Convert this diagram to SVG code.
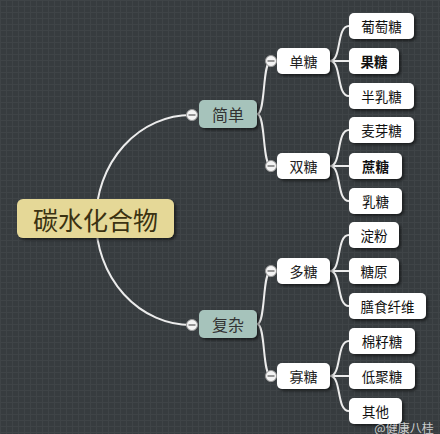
<svg xmlns="http://www.w3.org/2000/svg" width="440" height="434" viewBox="0 0 440 434">
<defs>
<pattern id="grid" width="6" height="6" patternUnits="userSpaceOnUse">
<rect width="6" height="6" fill="#373c3f"/>
<path d="M0 0.5H6M0.5 0V6" stroke="#3f4447" stroke-width="1"/>
</pattern>
<filter id="sh" x="-20%" y="-30%" width="150%" height="170%">
<feDropShadow dx="2" dy="2" stdDeviation="1.5" flood-color="#000" flood-opacity="0.55"/>
</filter>
</defs>
<style>
.t{font-family:"Noto Sans CJK SC","Noto Sans CJK JP",sans-serif;text-anchor:middle;dominant-baseline:central}
.leaf rect{fill:#ffffff;filter:url(#sh)}
.leaf text{font-size:13.5px;fill:#111}
.sub rect{fill:#ffffff;filter:url(#sh)}
.sub text{font-size:14px;fill:#222}
.mid rect{fill:#a6c3bb;filter:url(#sh)}
.mid text{font-size:16px;fill:#333}
.conn path{fill:none;stroke:#ececec;stroke-width:2;stroke-linecap:round}
.tog circle{fill:#f4f4f4;stroke:#9a9a9a;stroke-width:1}
.tog path{stroke:#777;stroke-width:1.5}
</style>
<rect width="440" height="434" fill="url(#grid)"/>
<g id="connectors" class="conn">
<path d="M191,115 A95,105 0 0 0 191,325" stroke-width="3"/>
<path d="M257,114 C266,114 262,61 271,61"/>
<path d="M257,114 C266,114 262,166 271,166"/>
<path d="M257,324 C266,324 262,271 271,271"/>
<path d="M257,324 C266,324 262,376 271,376"/>
<path d="M330,61 C342,61 336,26 349,26"/>
<path d="M330,61 H349"/>
<path d="M330,61 C342,61 336,96 349,96"/>
<path d="M330,166 C342,166 336,130 349,130"/>
<path d="M330,166 H349"/>
<path d="M330,166 C342,166 336,201 349,201"/>
<path d="M330,271 C342,271 336,235 349,235"/>
<path d="M330,271 H349"/>
<path d="M330,271 C342,271 336,306 349,306"/>
<path d="M330,376 C342,376 336,341 349,341"/>
<path d="M330,376 H349"/>
<path d="M330,376 C342,376 336,411 349,411"/>
</g>
<g id="root">
<rect x="17" y="199" width="157" height="39" rx="6" fill="#e5d897" filter="url(#sh)"/>
<text class="t" x="95.5" y="219" font-size="25" fill="#3b3212">碳水化合物</text>
</g>
<g id="n-simple" class="mid">
<rect x="199" y="100" width="58" height="28" rx="5"/>
<text class="t" x="228" y="114">简单</text>
</g>
<g id="n-complex" class="mid">
<rect x="199" y="310" width="58" height="28" rx="5"/>
<text class="t" x="228" y="324">复杂</text>
</g>
<g id="tog-simple" class="tog"><circle cx="192" cy="115" r="5.5"/><path d="M188.5,115H195.5"/></g>
<g id="tog-complex" class="tog"><circle cx="192" cy="325" r="5.5"/><path d="M188.5,325H195.5"/></g>
<g id="n-mono" class="sub"><rect x="277" y="48" width="53" height="26" rx="5"/><text class="t" x="303.5" y="61">单糖</text></g>
<g id="n-di" class="sub"><rect x="277" y="153" width="53" height="26" rx="5"/><text class="t" x="303.5" y="166">双糖</text></g>
<g id="n-poly" class="sub"><rect x="277" y="258" width="53" height="26" rx="5"/><text class="t" x="303.5" y="271">多糖</text></g>
<g id="n-oligo" class="sub"><rect x="277" y="363" width="53" height="26" rx="5"/><text class="t" x="303.5" y="376">寡糖</text></g>
<g id="tog-mono" class="tog"><circle cx="271" cy="61" r="5.5"/><path d="M267.5,61H274.5"/></g>
<g id="tog-di" class="tog"><circle cx="271" cy="166" r="5.5"/><path d="M267.5,166H274.5"/></g>
<g id="tog-poly" class="tog"><circle cx="271" cy="271" r="5.5"/><path d="M267.5,271H274.5"/></g>
<g id="tog-oligo" class="tog"><circle cx="271" cy="376" r="5.5"/><path d="M267.5,376H274.5"/></g>
<g id="n-glucose" class="leaf"><rect x="349" y="13" width="65" height="26" rx="5"/><text class="t" x="381.5" y="26">葡萄糖</text></g>
<g id="n-fructose" class="leaf"><rect x="349" y="48" width="50" height="26" rx="5"/><text class="t" x="374" y="61" font-weight="bold">果糖</text></g>
<g id="n-galactose" class="leaf"><rect x="349" y="83" width="65" height="26" rx="5"/><text class="t" x="381.5" y="96">半乳糖</text></g>
<g id="n-maltose" class="leaf"><rect x="349" y="117" width="65" height="26" rx="5"/><text class="t" x="381.5" y="130">麦芽糖</text></g>
<g id="n-sucrose" class="leaf"><rect x="349" y="153" width="53" height="26" rx="5"/><text class="t" x="375.5" y="166" font-weight="bold">蔗糖</text></g>
<g id="n-lactose" class="leaf"><rect x="349" y="188" width="53" height="26" rx="5"/><text class="t" x="375.5" y="201">乳糖</text></g>
<g id="n-starch" class="leaf"><rect x="349" y="222" width="50" height="26" rx="5"/><text class="t" x="374" y="235">淀粉</text></g>
<g id="n-glycogen" class="leaf"><rect x="349" y="258" width="50" height="26" rx="5"/><text class="t" x="374" y="271">糖原</text></g>
<g id="n-fiber" class="leaf"><rect x="349" y="293" width="77" height="26" rx="5"/><text class="t" x="387.5" y="306">膳食纤维</text></g>
<g id="n-raffinose" class="leaf"><rect x="349" y="328" width="66" height="26" rx="5"/><text class="t" x="382" y="341">棉籽糖</text></g>
<g id="n-oligosac" class="leaf"><rect x="349" y="363" width="66" height="26" rx="5"/><text class="t" x="382" y="376">低聚糖</text></g>
<g id="n-other" class="leaf"><rect x="349" y="398" width="53" height="26" rx="5"/><text class="t" x="375.5" y="411">其他</text></g>
<text class="t" x="404" y="427" font-size="12" fill="#ffffff" fill-opacity="0.75">@健康八桂</text>
</svg>
